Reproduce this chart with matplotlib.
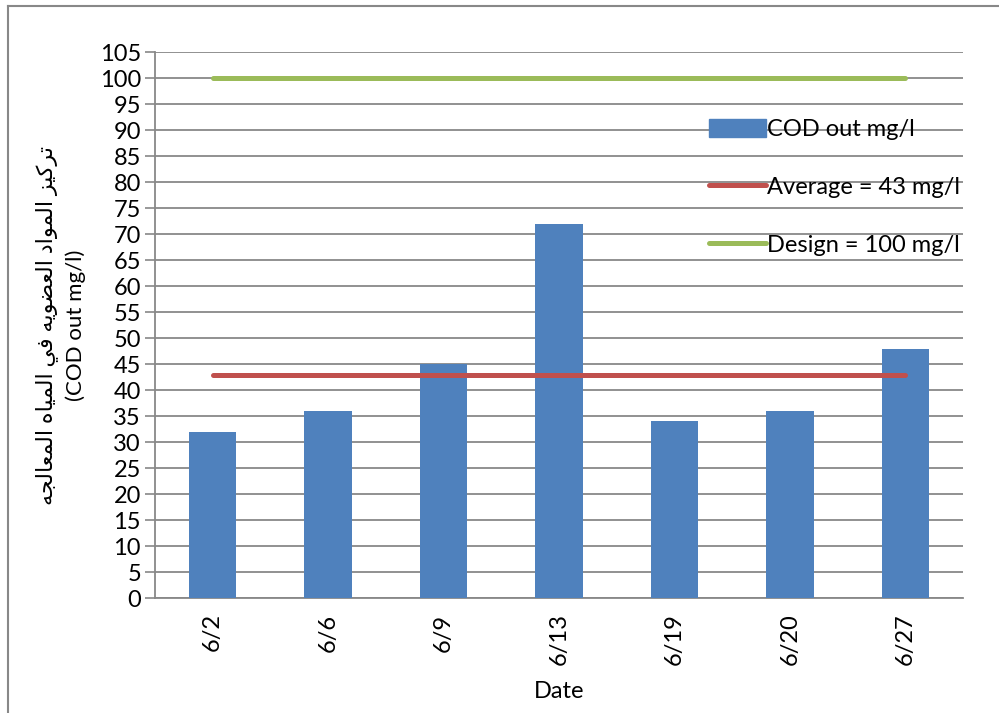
import matplotlib
matplotlib.use("Agg")
import matplotlib.pyplot as plt
from matplotlib.patches import Patch
from matplotlib.lines import Line2D

# data
dates = ["6/2", "6/6", "6/9", "6/13", "6/19", "6/20", "6/27"]
cod_out = [32, 36, 45, 72, 34, 36, 48]
average = 43
design = 100

ylabel_ar = "تركيز المواد العضويه في المياه المعالجه"
ylabel_en = "(COD out mg/l)"

# arabic presentation forms: isolated, final, initial, medial (None = does not join forward)
FORMS = {
    "ا": ("\uFE8D", "\uFE8E", None, None),
    "ت": ("\uFE95", "\uFE96", "\uFE97", "\uFE98"),
    "ج": ("\uFE9D", "\uFE9E", "\uFE9F", "\uFEA0"),
    "د": ("\uFEA9", "\uFEAA", None, None),
    "ر": ("\uFEAD", "\uFEAE", None, None),
    "ز": ("\uFEAF", "\uFEB0", None, None),
    "ض": ("\uFEBD", "\uFEBE", "\uFEBF", "\uFEC0"),
    "ع": ("\uFEC9", "\uFECA", "\uFECB", "\uFECC"),
    "ف": ("\uFED1", "\uFED2", "\uFED3", "\uFED4"),
    "ك": ("\uFED9", "\uFEDA", "\uFEDB", "\uFEDC"),
    "ل": ("\uFEDD", "\uFEDE", "\uFEDF", "\uFEE0"),
    "م": ("\uFEE1", "\uFEE2", "\uFEE3", "\uFEE4"),
    "ه": ("\uFEE9", "\uFEEA", "\uFEEB", "\uFEEC"),
    "و": ("\uFEED", "\uFEEE", None, None),
    "ي": ("\uFEF1", "\uFEF2", "\uFEF3", "\uFEF4"),
}


def shape_arabic(text):
    out = []
    for i, c in enumerate(text):
        if c not in FORMS:
            out.append(c)
            continue
        prev = text[i - 1] if i > 0 else ""
        nxt = text[i + 1] if i + 1 < len(text) else ""
        jp = prev in FORMS and FORMS[prev][2] is not None
        jn = nxt in FORMS and FORMS[c][2] is not None
        iso, fin, ini, med = FORMS[c]
        if jp and jn:
            out.append(med)
        elif jp:
            out.append(fin)
        elif jn:
            out.append(ini)
        else:
            out.append(iso)
    return "".join(out)[::-1]


plt.rcParams["font.family"] = ["Lato", "DejaVu Sans"]

blue = "#4F81BD"
red = "#C0504D"
green = "#9BBB59"
gray = "#888888"
fs = 17

fig = plt.figure(figsize=(9.99, 7.13), dpi=100)
ax = fig.add_axes([0.155, 0.161, 0.809, 0.766])

x = list(range(len(dates)))
ax.bar(x, cod_out, width=0.41, color=blue, zorder=3)
ax.plot([x[0], x[-1]], [average, average], color=red, lw=3.6, zorder=4,
        solid_capstyle="round")
ax.plot([x[0], x[-1]], [design, design], color=green, lw=3.6, zorder=4,
        solid_capstyle="round")

ax.set_xlim(-0.5, len(dates) - 0.5)
ax.set_ylim(0, 105)
ax.set_yticks(range(0, 106, 5))
ax.set_xticks(x)
ax.set_xticklabels(dates, rotation=90, fontsize=fs)
ax.tick_params(axis="y", labelsize=fs, length=7, width=1.2, color=gray, pad=3)
ax.tick_params(axis="x", length=0, pad=11)

ax.grid(axis="y", color=gray, lw=1.3, zorder=0)
ax.set_axisbelow(True)
for side in ["top", "right"]:
    ax.spines[side].set_visible(False)
for side in ["left", "bottom"]:
    ax.spines[side].set_color(gray)
    ax.spines[side].set_linewidth(1.3)

ax.set_xlabel("Date", fontsize=fs, labelpad=11)
ax.set_ylabel(shape_arabic(ylabel_ar) + "\n" + ylabel_en, fontsize=16,
              labelpad=10, linespacing=1.45)

handles = [
    Patch(color=blue),
    Line2D([], [], color=red, lw=3.6, solid_capstyle="round"),
    Line2D([], [], color=green, lw=3.6, solid_capstyle="round"),
]
labels = ["COD out mg/l", "Average = 43 mg/l", "Design = 100 mg/l"]
fig.legend(handles, labels, loc="upper left", bbox_to_anchor=(0.698, 0.85),
           frameon=False, fontsize=fs, handlelength=2.4, handleheight=0.8,
           handletextpad=0.05, labelspacing=1.55, borderpad=0)

# outer chart frame (left and top edges visible)
fig.add_artist(Line2D([0.008, 0.008], [0, 0.991], color=gray, lw=1.5,
                      transform=fig.transFigure))
fig.add_artist(Line2D([0.008, 1], [0.991, 0.991], color=gray, lw=1.5,
                      transform=fig.transFigure))

fig.savefig("out.png", dpi=100)
